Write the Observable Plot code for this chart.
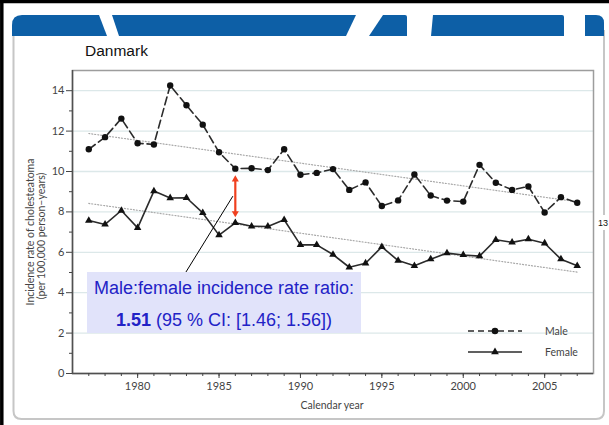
<!DOCTYPE html>
<html>
<head>
<meta charset="utf-8">
<script src="https://cdn.jsdelivr.net/npm/d3@7"></script>
<script src="https://cdn.jsdelivr.net/npm/@observablehq/plot@0.6"></script>
<style>
  html, body { margin: 0; padding: 0; background: #fff; }
  #wrap { position: relative; width: 609px; height: 425px; overflow: hidden; background: #fff; }
  #wrap > * { position: absolute; left: 0; top: 0; }
</style>
</head>
<body>
<div id="wrap">
  <svg id="deco" width="609" height="425">
    <line x1="0" y1="1.5" x2="609" y2="1.5" stroke="#000" stroke-width="3.5"/>
    <line x1="1.8" y1="0" x2="1.8" y2="425" stroke="#000" stroke-width="3.5"/>
    <path d="M13.5,30 L13.5,411 Q13.5,419 21.5,419 L596,419 Q604,419 604,411 L604,30" fill="none" stroke="#c6c6c6" stroke-width="2"/>
    <g fill="#0d5fa6">
      <path d="M12,36 L12,25 Q12,15 22,15 L99,15 L107,36 Z"/>
      <path d="M112,15 L356,15 L346,36 L119,36 Z"/>
      <path d="M383,15 L405,15 Q407,15 407,17 L407,36 L369,36 Z"/>
      <path d="M433,15 L562,15 Q564,15 564,17 L564,36 L431,36 Z"/>
      <path d="M585,15 L596,15 Q604,15 604,23 L604,36 L585,36 Z"/>
    </g>
    <rect x="597" y="215" width="12" height="15" fill="#fff"/>
    <text x="598" y="226" font-family="Liberation Sans, Arial, sans-serif" font-size="9" fill="#111">13</text>
    <text x="85" y="56" font-family="Liberation Sans, Arial, sans-serif" font-size="15.5" fill="#111">Danmark</text>
  </svg>
  <div id="chart"></div>
  <svg id="overlay" width="609" height="425" style="pointer-events:none"></svg>
</div>
<script>
// ---- data ----
const years = [1977,1978,1979,1980,1981,1982,1983,1984,1985,1986,1987,1988,1989,1990,1991,1992,1993,1994,1995,1996,1997,1998,1999,2000,2001,2002,2003,2004,2005,2006,2007];
const male = [11.1,11.7,12.62,11.4,11.34,14.26,13.28,12.32,10.95,10.14,10.16,10.07,11.1,9.84,9.93,10.12,9.09,9.46,8.29,8.57,9.85,8.81,8.56,8.51,10.33,9.44,9.09,9.26,7.97,8.73,8.45];
const female = [7.57,7.38,8.07,7.21,9.03,8.69,8.7,7.95,6.85,7.46,7.29,7.28,7.61,6.37,6.37,5.89,5.26,5.46,6.27,5.59,5.33,5.66,5.96,5.87,5.81,6.62,6.49,6.65,6.45,5.66,5.33];
const trendYears = [1977, 2007];
const maleTrend = [11.88, 8.5];
const femaleTrend = [8.42, 5.02];
const arrowYear = 1986;
const arrowTips = [9.8, 7.74];
const connectorX = [1982.95, 1985.85];
const connectorY = [5.0, 8.78];
const xDomain = [1976, 2008];
const yDomain = [0, 15];
const yMajor = [0,2,4,6,8,10,12,14];
const yMinor = [1,3,5,7,9,11,13];
const xMajor = [1980,1985,1990,1995,2000,2005];
const xMinor = d3.range(1977, 2008);
const seriesNames = ["Male", "Female"];
const yLabel = ["Incidence rate of cholesteatoma", "(per 100,000 person\u2013years)"];
const xLabel = "Calendar year";
const noteLine1 = "Male:female incidence rate ratio:";
const noteBold = "1.51";
const noteRest = " (95 % CI: [1.46; 1.56])";

const maleData = years.map((x, i) => ({x, y: male[i]}));
const femaleData = years.map((x, i) => ({x, y: female[i]}));
const trendData = [
  ...trendYears.map((x, i) => ({x, y: maleTrend[i], s: "Male"})),
  ...trendYears.map((x, i) => ({x, y: femaleTrend[i], s: "Female"}))
];
const arrowHeadOffset = 0.19;
const heads = [
  {x: arrowYear, y: arrowTips[0] - arrowHeadOffset, r: 0},
  {x: arrowYear, y: arrowTips[1] + arrowHeadOffset, r: 180}
];

const axisColor = "#505050";
const lineColor = "#2b2b2b";
const red = "#f0401f";
const font = "Lato, 'Open Sans', sans-serif";

const chart = Plot.plot({
  width: 609, height: 425,
  marginLeft: 72, marginRight: 16, marginTop: 70, marginBottom: 52,
  x: {domain: xDomain},
  y: {domain: yDomain},
  style: {background: "transparent", fontFamily: font, overflow: "visible"},
  marks: [
    Plot.gridY(yMajor.filter(v => v > 0), {stroke: "#dce8e9", strokeOpacity: 1, strokeWidth: 1.3}),
    Plot.frame({stroke: "#9d9d9d", strokeWidth: 1.5}),
    Plot.ruleX([xDomain[0]], {stroke: axisColor, strokeWidth: 1.5}),
    Plot.ruleY([yDomain[0]], {stroke: axisColor, strokeWidth: 1.5}),
    Plot.axisY(yMajor, {anchor: "left", tickSize: 6, tickPadding: 2, fontSize: 11, color: "#444", label: null}),
    Plot.axisY(yMinor, {anchor: "left", tickSize: 3, tickFormat: () => "", color: "#444", label: null}),
    Plot.axisX(xMajor, {anchor: "bottom", tickSize: 5, tickPadding: 4, fontSize: 11, color: "#444", tickFormat: d => String(d), label: null}),
    Plot.axisX(xMinor, {anchor: "bottom", tickSize: 3, tickFormat: () => "", color: "#444", label: null}),
    Plot.line(trendData, {x: "x", y: "y", z: "s", stroke: "#a8a8a8", strokeWidth: 1.2, strokeDasharray: "1,2"}),
    Plot.line(maleData, {x: "x", y: "y", stroke: lineColor, strokeWidth: 1.6, strokeDasharray: "8,4"}),
    Plot.dot(maleData, {x: "x", y: "y", r: 3.2, fill: "#111", stroke: "none"}),
    Plot.line(femaleData, {x: "x", y: "y", stroke: lineColor, strokeWidth: 1.6}),
    Plot.dot(femaleData, {x: "x", y: "y", r: 2.8, symbol: "triangle", fill: "#111", stroke: "none"}),
    Plot.link([{x1: connectorX[0], y1: connectorY[0], x2: connectorX[1], y2: connectorY[1]}], {x1: "x1", y1: "y1", x2: "x2", y2: "y2", stroke: "#000", strokeWidth: 1}),
    Plot.link([{x: arrowYear, y1: arrowTips[0] - 0.25, y2: arrowTips[1] + 0.25}], {x1: "x", x2: "x", y1: "y1", y2: "y2", stroke: red, strokeWidth: 2.2}),
    Plot.dot(heads, {x: "x", y: "y", symbol: "triangle", r: 2.6, rotate: "r", fill: red, stroke: "none"})
  ]
});
document.getElementById("chart").appendChild(chart);

// ---- overlay: axis titles, legend, annotation ----
const ov = d3.select("#overlay");
const yl = ov.append("g").attr("font-family", font).attr("font-size", 10.5).attr("fill", "#444").attr("text-anchor", "middle");
yl.append("text").attr("transform", "translate(33.5,232) rotate(-90)").text(yLabel[0]);
yl.append("text").attr("transform", "translate(44.5,236) rotate(-90)").text(yLabel[1]);
ov.append("text").attr("x", 332).attr("y", 409).attr("font-family", font).attr("font-size", 10.5)
  .attr("fill", "#444").attr("text-anchor", "middle").text(xLabel);

// legend
const lg = ov.append("g").attr("font-family", font).attr("font-size", 10.5).attr("fill", "#444");
seriesNames.forEach((name, i) => {
  const yy = 331 + i * 21;
  lg.append("line").attr("x1", 468).attr("x2", 522).attr("y1", yy).attr("y2", yy)
    .attr("stroke", lineColor).attr("stroke-width", 1.4).attr("stroke-dasharray", i === 0 ? "6,4" : null);
  const sym = d3.symbol().type(i === 0 ? d3.symbolCircle : d3.symbolTriangle).size(i === 0 ? 34 : 26);
  lg.append("path").attr("transform", `translate(495,${yy})`).attr("d", sym()).attr("fill", "#111");
  lg.append("text").attr("x", 545).attr("y", yy).attr("dy", "0.35em").text(name);
});

// annotation box
const nb = ov.append("g");
nb.append("rect").attr("x", 87).attr("y", 272).attr("width", 274).attr("height", 61).attr("fill", "#e1e3fa");
const nt = nb.append("g").attr("font-family", "Liberation Sans, Arial, sans-serif").attr("font-size", 18)
  .attr("fill", "#2222c6").attr("text-anchor", "middle");
nt.append("text").attr("x", 224).attr("y", 293.5).text(noteLine1);
const t2 = nt.append("text").attr("x", 224).attr("y", 326);
t2.append("tspan").attr("font-weight", "bold").text(noteBold);
t2.append("tspan").text(noteRest);
</script>
</body>
</html>
